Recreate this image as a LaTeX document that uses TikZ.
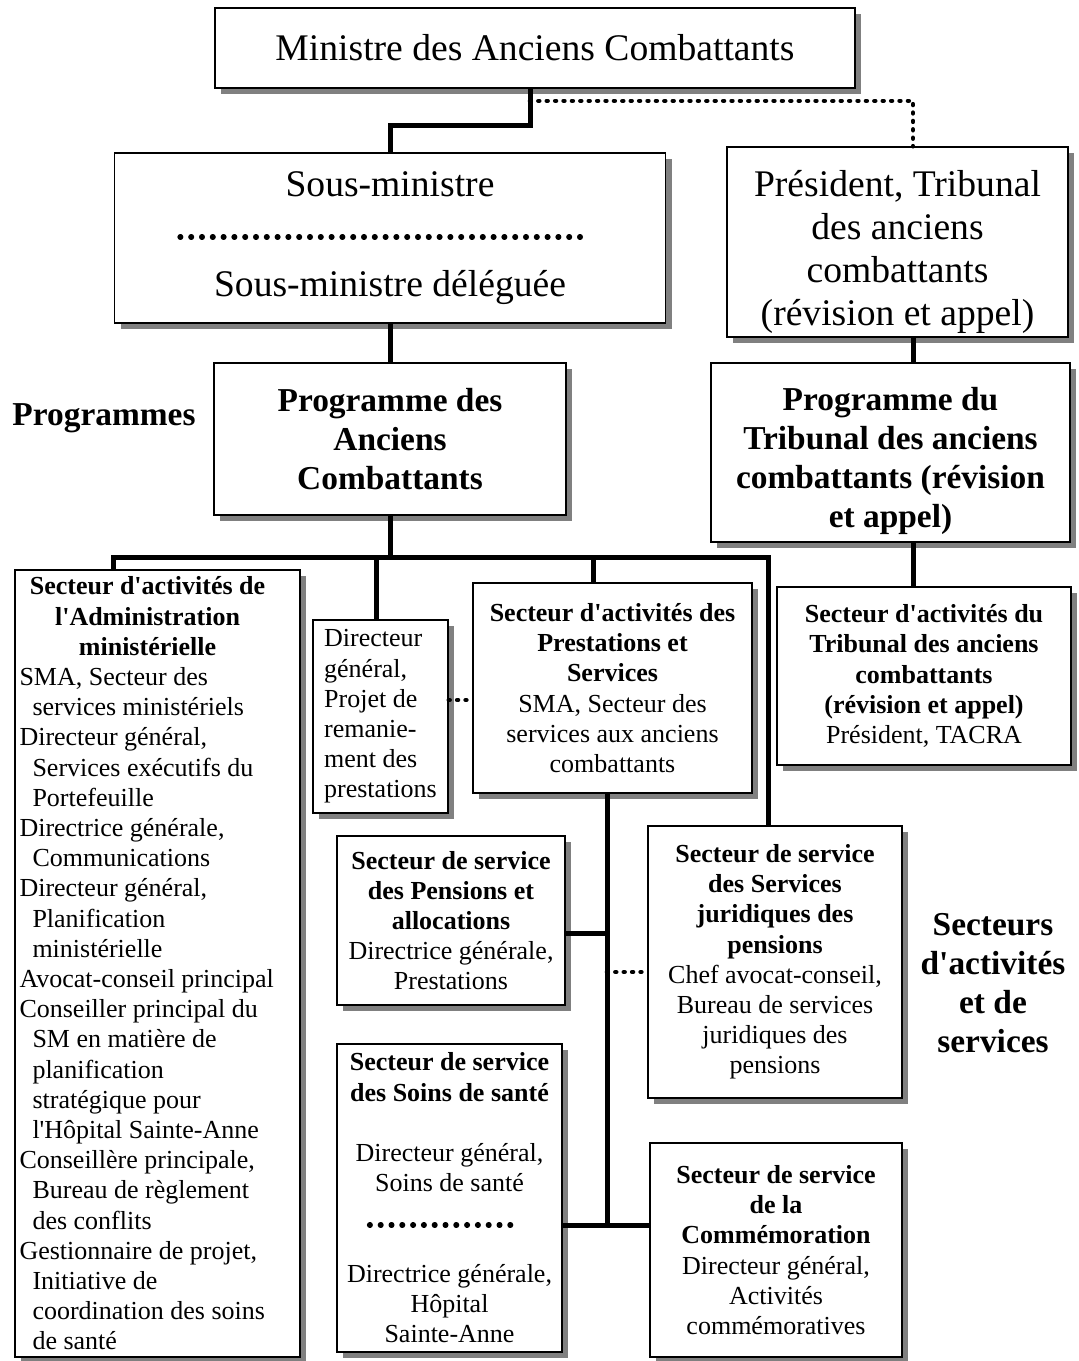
\documentclass[tikz,border=0pt]{standalone}
\usepackage{fontspec}
\setmainfont{Liberation Serif}[Ligatures=TeXOff]
\usepackage{tikz}
\usetikzlibrary{shadows,calc}
\newcommand{\bigsz}{\fontsize{18.8pt}{21.5pt}\selectfont}
\newcommand{\midsz}{\fontsize{16.7pt}{19.5pt}\selectfont}
\newcommand{\smsz}{\fontsize{13pt}{15.1pt}\selectfont}
\newcommand{\entry}[1]{\hangindent=6.5pt\hangafter=1 #1\par}

\begin{document}
\begin{tikzpicture}[
    x=0.5pt, y=-0.5pt,
    office/.style={rectangle, draw, line width=0.8pt, fill=white, align=center, inner sep=2pt,
        drop shadow={shadow xshift=3pt, shadow yshift=-3pt, fill=black!50, opacity=1}},
    sector/.style={office, font=\smsz},
    tag/.style={font=\midsz\bfseries, align=center, inner sep=0pt},
    link/.style={line width=2.5pt},
    dotlink/.style={line width=2.3pt, line cap=round, dash pattern=on 0.4pt off 3.8pt},
    sepdots/.style={line width=2.6pt, line cap=round, dash pattern=on 0.4pt off 5pt}
]
\useasboundingbox (0,0) rectangle (1078,1361);

% top of the chart
\node[office, font=\bigsz, minimum width=320pt, minimum height=40pt] (min) at (535,48) {Ministre des Anciens Combattants};
\node[office, font=\bigsz, minimum width=275.5pt, minimum height=85pt] (sm) at (390,238) {Sous-ministre\\[28.5pt]Sous-ministre déléguée};
\node[office, font=\bigsz, text height=83pt, text depth=0pt, minimum width=170.5pt, minimum height=95pt] (pres) at (897.5,242) {Président, Tribunal\\des anciens\\combattants\\(révision et appel)};

% programmes
\node[tag] (prog) at (104,418) {Programmes};
\node[office, font=\midsz\bfseries, minimum width=176pt, minimum height=76pt] (pac) at (390,439) {Programme des\\Anciens\\Combattants};
\node[office, font=\midsz\bfseries, text height=74.5pt, text depth=0pt, minimum width=179.5pt, minimum height=89.5pt] (ptr) at (890.5,452.5) {Programme du\\Tribunal des anciens\\combattants (révision\\et appel)};

% secteurs
\node[sector, inner xsep=2.25pt, minimum height=393.5pt] (adm) at (157.5,963.5) {\begin{minipage}{138pt}\raggedright
{\centering\rightskip=10pt plus 1fil\bfseries Secteur d'activités de\\l'Administration\\ministérielle\par}
\entry{SMA, Secteur des\newline services ministériels}
\entry{Directeur général,\newline Services exécutifs du\newline Portefeuille}
\entry{Directrice générale,\newline Communications}
\entry{Directeur général,\newline Planification\newline ministérielle}
\entry{Avocat-conseil principal}
\entry{Conseiller principal du\newline SM en matière de\newline planification\newline stratégique pour\newline l'Hôpital Sainte-Anne}
\entry{Conseillère principale,\newline Bureau de règlement\newline des conflits}
\entry{Gestionnaire de projet,\newline Initiative de\newline coordination des soins\newline de santé}
\end{minipage}};
\node[sector, align=left, minimum width=67.5pt, minimum height=96.5pt] (dir) at (380.5,716.5) {Directeur\\général,\\Projet de\\remanie-\\ment des\\prestations};
\node[sector, minimum width=139.5pt, minimum height=105pt] (ps) at (612.5,688) {\textbf{Secteur d'activités des}\\\textbf{Prestations et}\\\textbf{Services}\\SMA, Secteur des\\services aux anciens\\combattants};
\node[sector, minimum width=147pt, minimum height=89pt] (tac) at (924,676) {\textbf{Secteur d'activités du}\\\textbf{Tribunal des anciens}\\\textbf{combattants}\\\textbf{(révision et appel)}\\Président, TACRA};
\node[sector, minimum width=114pt, minimum height=84.5pt] (pens) at (451,920.5) {\textbf{Secteur de service}\\\textbf{des Pensions et}\\\textbf{allocations}\\Directrice générale,\\Prestations};
\node[sector, minimum width=127pt, minimum height=136pt] (jur) at (775,962) {\textbf{Secteur de service}\\\textbf{des Services}\\\textbf{juridiques des}\\\textbf{pensions}\\Chef avocat-conseil,\\Bureau de services\\juridiques des\\pensions};
\node[sector, minimum width=112.5pt, minimum height=154pt] (soins) at (449.5,1198) {\textbf{Secteur de service}\\\textbf{des Soins de santé}\\[15pt]Directeur général,\\Soins de santé\\[30.4pt]Directrice générale,\\Hôpital\\Sainte-Anne};
\node[sector, minimum width=126pt, minimum height=107pt] (comm) at (776,1250) {\textbf{Secteur de service}\\\textbf{de la}\\\textbf{Commémoration}\\Directeur général,\\Activités\\commémoratives};
\node[tag] (sect) at (993,983) {Secteurs\\d'activités\\et de\\services};

% separators inside boxes
\draw[sepdots] ($(sm.center)+(-210,-1)$) -- ($(sm.center)+(200,-1)$);
\draw[sepdots] ($(soins.center)+(-80,27)$) -- ($(soins.center)+(68,27)$);

% junction points
\coordinate (tribx) at (913,0);
\coordinate (busL) at (113,557);
\coordinate (busR) at (768,557);
\coordinate (dirx) at (376,0);
\coordinate (psx) at (593,0);
\coordinate (dotdir) at (0,700);
\coordinate (jpens) at (607,933);
\coordinate (jjur) at (607,972);
\coordinate (jcomm) at (607,1225);

% connectors
\draw[link] ($(min.south)+(-5,0)$) -- ++(0,37) -| (sm.north);
\draw[dotlink] ($(min.south)+(-5,12)$) -| (pres.north -| tribx);
\draw[link] (sm.south) -- (pac.north);
\draw[link] (pres.south -| tribx) -- (ptr.north -| tribx);
\draw[link] (pac.south) -- (pac.south |- busL);
\draw[link] (adm.north -| busL) -- (busL) -- (busR) -- (jur.north -| busR);
\draw[link] (dirx |- busL) -- (dir.north -| dirx);
\draw[link] (psx |- busL) -- (ps.north -| psx);
\draw[link] (ptr.south -| tribx) -- (tac.north -| tribx);
\draw[dotlink] (dir.east |- dotdir) -- (ps.west |- dotdir);
\draw[link] (ps.south -| jcomm) -- (jcomm);
\draw[link] (pens.east |- jpens) -- (jpens);
\draw[link] (soins.east |- jcomm) -- (comm.west |- jcomm);
\draw[dotlink] (jjur) -- (jur.west |- jjur);

\end{tikzpicture}
\end{document}
